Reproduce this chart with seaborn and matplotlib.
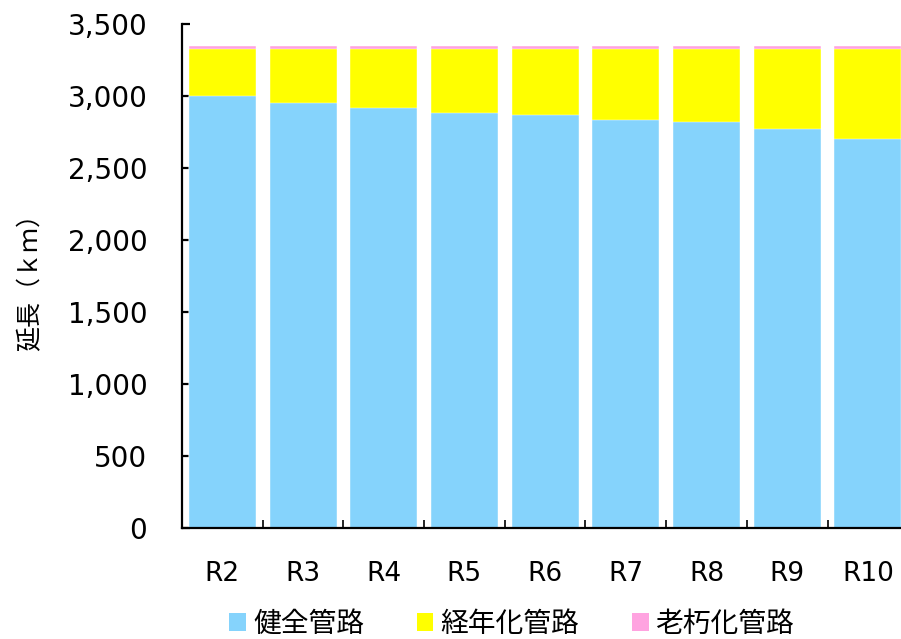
import matplotlib
matplotlib.use("Agg")
import matplotlib.pyplot as plt
from matplotlib.patches import Patch
from matplotlib.ticker import FuncFormatter, FixedLocator
import numpy as np
import pandas as pd
import seaborn as sns

# Pipeline length by condition (km), fiscal years R2–R10
years = ["R2", "R3", "R4", "R5", "R6", "R7", "R8", "R9", "R10"]
healthy = [3000, 2953, 2918, 2885, 2871, 2836, 2820, 2772, 2704]
aging = [330, 377, 412, 445, 459, 494, 510, 558, 626]
deteriorated = [20, 20, 20, 20, 20, 20, 20, 20, 20]
series_names = ["健全管路", "経年化管路", "老朽化管路"]
colors = ["#85D3FC", "#FFFF00", "#FFA3E0"]

sns.set_theme(style="white")
plt.rcParams["font.family"] = ["DejaVu Sans"]
plt.rcParams["text.color"] = "black"
plt.rcParams["axes.labelcolor"] = "black"
plt.rcParams["xtick.color"] = "black"
plt.rcParams["ytick.color"] = "black"
cjk = ["Noto Sans CJK JP", "DejaVu Sans"]

df = pd.DataFrame({"year": years, "healthy": healthy, "aging": aging,
                   "deteriorated": deteriorated})
df["lvl1"] = df["healthy"]
df["lvl2"] = df["healthy"] + df["aging"]
df["lvl3"] = df["lvl2"] + df["deteriorated"]

fig = plt.figure(figsize=(9.01, 6.39), dpi=100)
ax = fig.add_axes([0.202, 0.1737, 0.806, 0.7887])

# stacked bars drawn as overlaid cumulative totals, top layer first
for col, color in zip(["lvl3", "lvl2", "lvl1"], colors[::-1]):
    sns.barplot(data=df, x="year", y=col, color=color, width=0.83,
                saturation=1, ax=ax, edgecolor="white", linewidth=0.3)

ax.set_ylim(0, 3500)
ax.set_xlim(-0.5, len(years) - 0.5)
ax.yaxis.set_major_locator(FixedLocator(np.arange(0, 3501, 500)))
ax.yaxis.set_major_formatter(FuncFormatter(lambda v, p: f"{int(v):,}"))
ax.set_xlabel("")
ax.set_ylabel("延長（ｋｍ）", fontsize=18, family=cjk, labelpad=17)

for s in ["top", "right"]:
    ax.spines[s].set_visible(False)
for s in ["left", "bottom"]:
    ax.spines[s].set_color("black")
    ax.spines[s].set_linewidth(1.6)

ax.tick_params(axis="y", which="major", direction="in", length=6, width=1.6,
               color="black", labelsize=20, pad=25, left=True)
ax.tick_params(axis="x", which="major", length=0, pad=24)
ax.set_xticks(range(len(years)))
ax.set_xticklabels(years, fontsize=19)
ax.xaxis.set_minor_locator(FixedLocator(np.arange(0.5, len(years) - 0.5, 1)))
ax.tick_params(axis="x", which="minor", direction="in", length=6, width=1.2,
               color="black", bottom=True)

handles = [Patch(facecolor=c, edgecolor="none") for c in colors]
fig.legend(handles, series_names, loc="center", ncol=3,
           bbox_to_anchor=(0.568, 0.024), frameon=False,
           prop={"family": cjk, "size": 20}, handlelength=0.6,
           handleheight=0.6, handletextpad=0.25, columnspacing=1.9)

fig.savefig("out.png", dpi=100)
